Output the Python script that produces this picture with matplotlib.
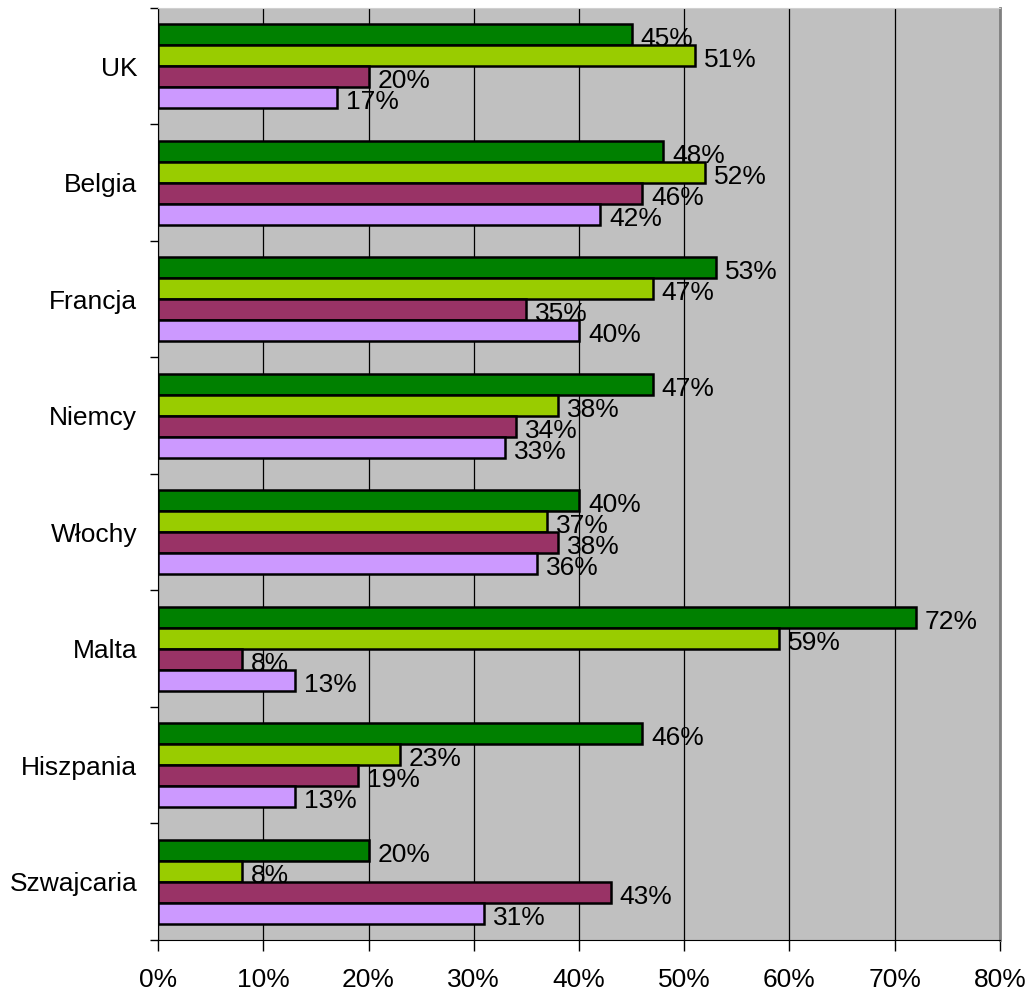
import numpy as np
import matplotlib.pyplot as plt
from matplotlib.ticker import FixedLocator

plt.rcParams['font.family'] = ['Liberation Sans', 'DejaVu Sans']

countries = ['UK', 'Belgia', 'Francja', 'Niemcy', 'Włochy', 'Malta', 'Hiszpania', 'Szwajcaria']
series_1 = [45, 48, 53, 47, 40, 72, 46, 20]
series_2 = [51, 52, 47, 38, 37, 59, 23, 8]
series_3 = [20, 46, 35, 34, 38, 8, 19, 43]
series_4 = [17, 42, 40, 33, 36, 13, 13, 31]
colors = ['#008000', '#99CC00', '#993366', '#CC99FF']
x_ticks = [0, 10, 20, 30, 40, 50, 60, 70, 80]

fig = plt.figure(figsize=(10.33, 9.93), dpi=100)
ax = fig.add_axes([0.153, 0.0534, 0.815, 0.9386])
ax.set_facecolor('#C0C0C0')

n = len(countries)
h = 0.18
centers = np.arange(n)
all_series = [series_1, series_2, series_3, series_4]
for k, vals in enumerate(all_series):
    ys = centers + (k - 1.5) * h
    ax.barh(ys, vals, height=h, color=colors[k], edgecolor='black', linewidth=1.8, zorder=3)
    for y, v in zip(ys, vals):
        # labels sit just right of the bar end, a bit lower than the bar centre
        ax.text(v + 0.85, y + 0.04, f'{v}%', va='center', ha='left', fontsize=19, zorder=4)

ax.set_ylim(n - 0.5, -0.5)
ax.set_xlim(0, 80)
ax.set_xticks(x_ticks)
ax.set_xticklabels([f'{t}%' for t in x_ticks], fontsize=19)
ax.tick_params(axis='x', direction='out', length=8, width=1, pad=12)
ax.xaxis.grid(True, color='black', linewidth=0.9, zorder=0)
ax.set_axisbelow(True)

ax.yaxis.set_major_locator(FixedLocator(np.arange(-0.5, n, 1.0)))
ax.set_yticklabels([])
ax.yaxis.set_minor_locator(FixedLocator(centers))
ax.set_yticklabels(countries, minor=True, fontsize=19)
ax.tick_params(axis='y', which='major', direction='out', length=6, width=1)
ax.tick_params(axis='y', which='minor', length=0, pad=15)

ax.spines['left'].set_color('black')
ax.spines['bottom'].set_color('black')
ax.spines['top'].set_color('#D0D0D0')
ax.spines['right'].set_color('#808080')
ax.spines['right'].set_linewidth(2)

fig.savefig('out.png', dpi=100)
